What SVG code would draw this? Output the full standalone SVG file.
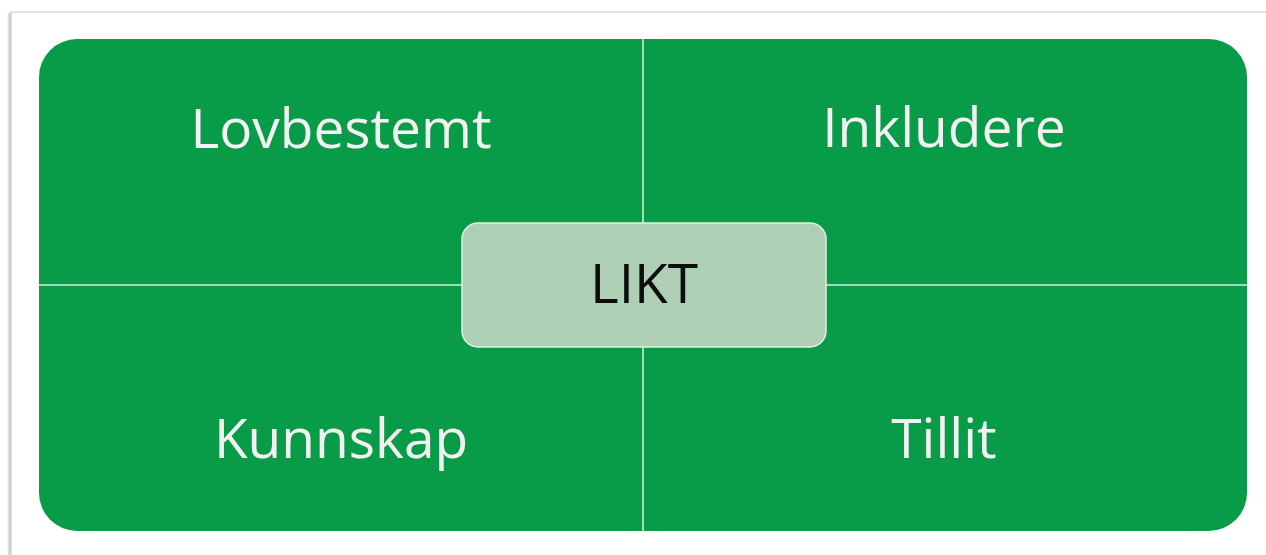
<svg xmlns="http://www.w3.org/2000/svg" width="1266" height="555" viewBox="0 0 1266 555">
  <defs>
    <style>
      .quad { font-family: "Open Sans", "Liberation Sans", sans-serif; font-size: 55px; fill: #f2f2f2; text-anchor: middle; }
      .center { font-family: "Open Sans", "Liberation Sans", sans-serif; font-size: 55px; fill: #0d0d0d; text-anchor: middle; }
      .divider { stroke: #d8ecdc; stroke-width: 1.5; fill: none; }
    </style>
    <linearGradient id="shadowL" x1="0" y1="0" x2="1" y2="0">
      <stop offset="0" stop-color="#ffffff"/>
      <stop offset="0.6" stop-color="#c4c4c4"/>
      <stop offset="1" stop-color="#e8e8e8"/>
    </linearGradient>
  </defs>
  <rect x="0" y="0" width="1266" height="555" fill="#ffffff"/>
  <g id="page">
    <rect x="7" y="13" width="5" height="542" fill="url(#shadowL)"/>
    <line x1="10" y1="12" x2="1266" y2="12" stroke="#e2e2e2" stroke-width="2"/>
  </g>
  <g id="background">
    <rect x="39" y="39" width="1208" height="492" rx="38" ry="38" fill="#089c48"/>
  </g>
  <g id="connectors">
    <line class="divider" x1="643" y1="39" x2="643" y2="531"/>
    <line class="divider" x1="39" y1="285" x2="1247" y2="285"/>
  </g>
  <g id="lovbestemt">
    <text class="quad" x="341" y="148">Lovbestemt</text>
  </g>
  <g id="inkludere">
    <text class="quad" x="944" y="147">Inkludere</text>
  </g>
  <g id="kunnskap">
    <text class="quad" x="341" y="458">Kunnskap</text>
  </g>
  <g id="tillit">
    <text class="quad" x="944" y="458">Tillit</text>
  </g>
  <g id="likt">
    <rect x="462" y="223" width="364" height="124" rx="16" ry="16" fill="#aecfb4" stroke="#e3f0e5" stroke-width="1.5"/>
    <text class="center" x="644" y="303">LIKT</text>
  </g>
</svg>
